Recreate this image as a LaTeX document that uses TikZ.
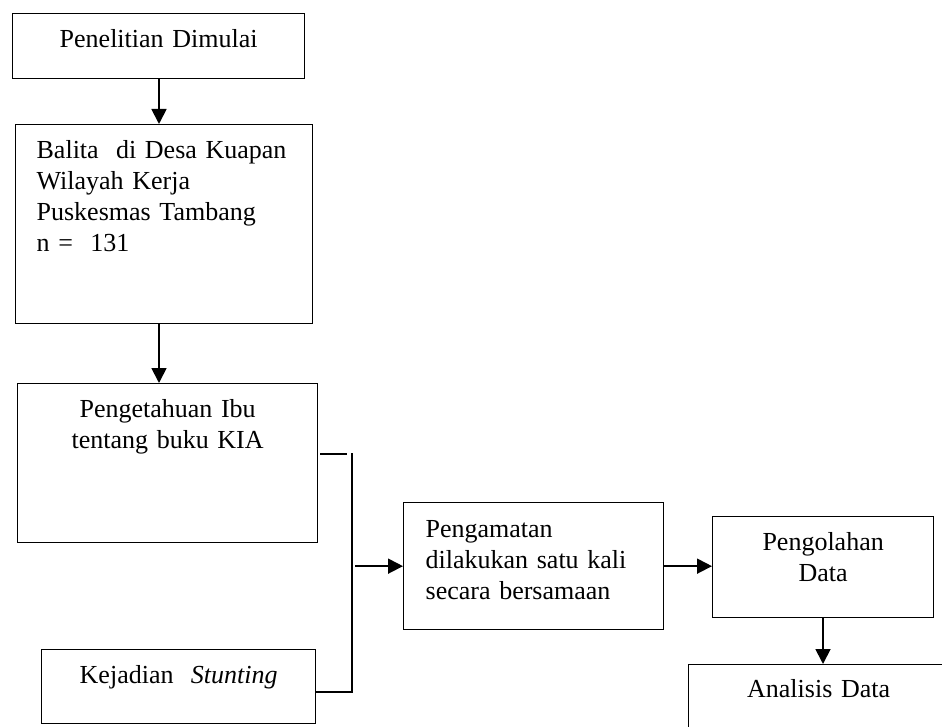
\documentclass[tikz,border=0pt]{standalone}
\usepackage{fontspec}
\setmainfont{Liberation Serif}
\usetikzlibrary{arrows.meta}

\begin{document}
\begin{tikzpicture}[x=1pt, y=-1pt,
   font=\fontsize{26}{31}\selectfont,
   box/.style={draw, line width=1.3pt, anchor=north west, inner ysep=0pt},
   arr/.style={line width=1.8pt, -{Triangle[length=15pt,width=15pt]}},
   link/.style={line width=1.2pt}]

\useasboundingbox (0,0) rectangle (942,727);
\clip (0,0) rectangle (942,727);

\node[box, inner xsep=0pt, text width=292pt, align=center, text height=34pt, text depth=31pt]
   (mulai) at (12,13) {Penelitian Dimulai};
\node[box, inner xsep=21pt, text width=255pt, align=left, text height=34pt, text depth=165pt]
   (balita) at (15,124) {Balita\ \ di Desa Kuapan\\ Wilayah Kerja\\ Puskesmas Tambang\\ n =\ \ 131};
\node[box, inner xsep=0pt, text width=300pt, align=center, text height=34pt, text depth=125pt]
   (ibu) at (17,383) {Pengetahuan Ibu\\ tentang buku KIA};
\node[box, inner xsep=0pt, text width=274pt, align=center, text height=34pt, text depth=40pt]
   (stunting) at (41,649) {Kejadian\ \ \textit{Stunting}};
\node[box, inner xsep=22pt, text width=216pt, align=left, text height=35pt, text depth=92pt]
   (amat) at (403,502) {Pengamatan\\ dilakukan satu kali\\ secara bersamaan};
\node[box, inner xsep=0pt, text width=221pt, align=center, text height=34pt, text depth=67pt]
   (olah) at (712,516) {Pengolahan\\ Data};
\node[box, inner xsep=0pt, text width=260pt, align=center, text height=33pt, text depth=80pt]
   (analisis) at (688,664) {Analisis Data};

\coordinate (ibuout) at (ibu.east |- 0,454);
\coordinate (gabung) at (352,453);
\coordinate (stunout) at (stunting.east |- 0,692);

\draw[arr] (mulai.south -| 159,0) -- (159,0 |- balita.north);
\draw[arr] (balita.south -| 159,0) -- (159,0 |- ibu.north);
\draw[link] ([xshift=2pt]ibuout) -- ([xshift=29pt]ibuout);
\draw[link] (gabung) -- (gabung |- stunout) -- (stunout);
\draw[arr] (gabung |- amat.west) ++(3,0) -- (amat.west);
\draw[arr] (amat.east) -- (amat.east -| olah.west);
\draw[arr] (olah.south -| 823,0) -- (823,0 |- analisis.north);

\end{tikzpicture}
\end{document}
